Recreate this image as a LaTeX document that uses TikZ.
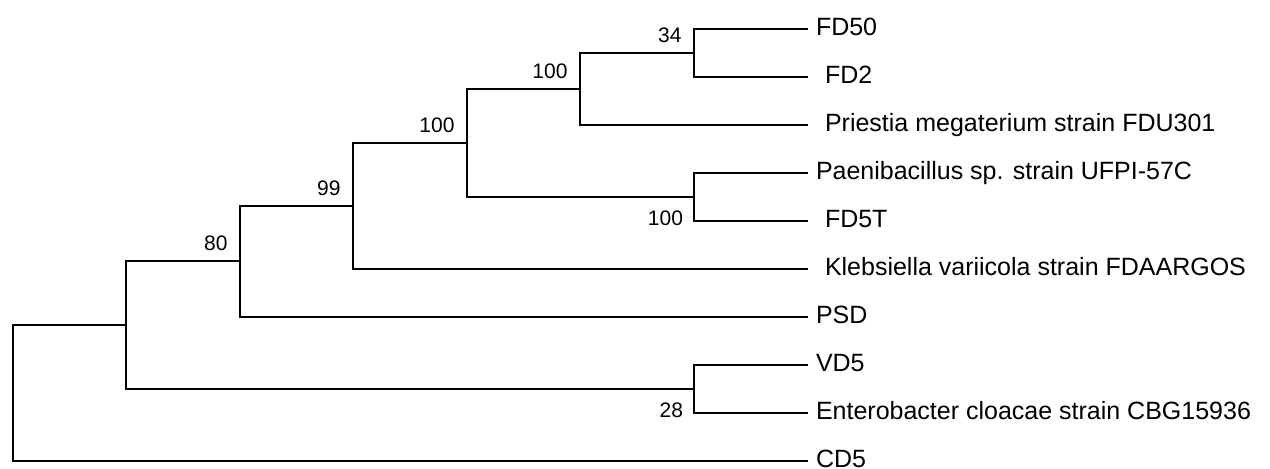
\documentclass[tikz,border=0pt]{standalone}
\usepackage{fontspec}
\setmainfont{Liberation Sans}

\begin{document}
\begin{tikzpicture}[x=0.5pt,y=-0.5pt,line width=1pt,
		leaf/.style={anchor=base west,inner sep=0pt,xshift=3.5pt,yshift=-3.4pt,font=\fontsize{12.5}{15}\selectfont},
		leafsp/.style={leaf,xshift=4.5pt},
		bootup/.style={anchor=base east,inner sep=0pt,xshift=-5.75pt,yshift=5.25pt,font=\fontsize{10.5}{12}\selectfont},
		bootdown/.style={anchor=north east,inner sep=0pt,xshift=-5pt,yshift=-6.5pt,font=\fontsize{10.5}{12}\selectfont}]
				\useasboundingbox (0,0) rectangle (1270,469);
				% tips
				\coordinate (FD50) at (808,29);
				\coordinate (FD2) at (808,77);
				\coordinate (Priestia) at (808,125);
				\coordinate (Paeni) at (808,173);
				\coordinate (FD5T) at (808,221);
				\coordinate (Kleb) at (808,269);
				\coordinate (PSD) at (808,317);
				\coordinate (VD5) at (808,365);
				\coordinate (Entero) at (808,413);
				\coordinate (CD5) at (808,461);
				% inner nodes
				\coordinate (n34) at (694,53);
				\coordinate (n100a) at (580,89);
				\coordinate (n100b) at (694,197);
				\coordinate (n100c) at (467,143);
				\coordinate (n99) at (353,206);
				\coordinate (n80) at (240,261.5);
				\coordinate (n28) at (694,389);
				\coordinate (nE) at (126,325.25);
				\coordinate (root) at (12.7,393);
				
				\draw (FD50) -| (n34) |- (FD2);
				\draw (n34) -| (n100a) |- (Priestia);
				\draw (Paeni) -| (n100b) |- (FD5T);
				\draw (n100a) -| (n100c) |- (n100b);
				\draw (n100c) -| (n99) |- (Kleb);
				\draw (n99) -| (n80) |- (PSD);
				\draw (VD5) -| (n28) |- (Entero);
				\draw (n80) -| (nE) |- (n28);
				\draw (nE) -| (root) |- (CD5);
				
				\node[leaf] (lFD50) at (FD50) {FD50};
				\node[leafsp] (lFD2) at (FD2) {FD2};
				\node[leafsp] (lPriestia) at (Priestia) {Priestia megaterium strain FDU301};
				\node[leaf] (lPaeni) at (Paeni) {Paenibacillus sp. strain UFPI-57C};
				\node[leafsp] (lFD5T) at (FD5T) {FD5T};
				\node[leafsp] (lKleb) at (Kleb) {Klebsiella variicola strain FDAARGOS};
				\node[leaf] (lPSD) at (PSD) {PSD};
				\node[leaf] (lVD5) at (VD5) {VD5};
				\node[leaf] (lEntero) at (Entero) {Enterobacter cloacae strain CBG15936};
				\node[leaf] (lCD5) at (CD5) {CD5};
				
				\node[bootup] (b34) at (n34) {34};
				\node[bootup] (b100a) at (n100a) {100};
				\node[bootup] (b100c) at (n100c) {100};
				\node[bootup] (b99) at (n99) {99};
				\node[bootup] (b80) at (n80) {80};
				\node[bootdown] (b100b) at (n100b) {100};
				\node[bootdown] (b28) at (n28) {28};
			\end{tikzpicture}
\end{document}
